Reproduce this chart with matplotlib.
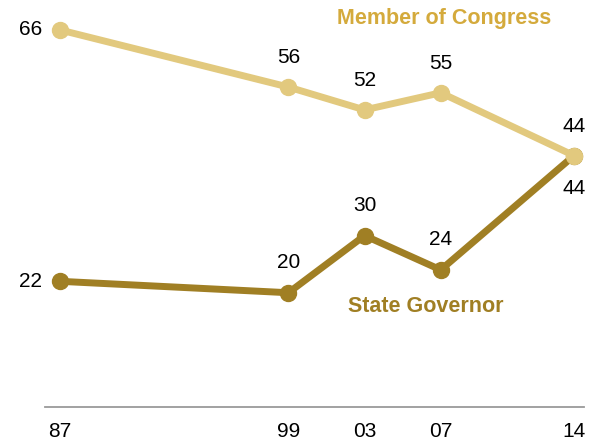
import matplotlib
matplotlib.use("Agg")
import matplotlib.pyplot as plt

# survey years and shares
years = [1987, 1999, 2003, 2007, 2014]
year_labels = ["87", "99", "03", "07", "14"]
congress = [66, 56, 52, 55, 44]
governor = [22, 20, 30, 24, 44]

light = "#E2C97E"
dark = "#A07F24"
congress_txt = "#D4AA3C"

num_font = ["Liberation Sans", "DejaVu Sans"]
lab_font = ["Liberation Sans", "DejaVu Sans"]
fs = 15

fig = plt.figure(figsize=(5.97, 4.43), dpi=100)
ax = fig.add_axes([45 / 597, 1 - 407 / 443, (584 - 45) / 597, 407 / 443])
x0 = 1987 - 15 / 19.04
x1 = 2014 + 10 / 19.04
ax.set_xlim(x0, x1)
ax.set_ylim(0, 66 + 30 / 5.727)

ax.plot(years, congress, color=light, lw=5, marker="o", ms=11.5, clip_on=False, zorder=3)
ax.plot(years, governor, color=dark, lw=5, marker="o", ms=11.5, clip_on=False, zorder=2)

for s in ["top", "left", "right"]:
    ax.spines[s].set_visible(False)
ax.spines["bottom"].set_color("#9a9a9a")
ax.spines["bottom"].set_linewidth(1.3)
ax.set_yticks([])
ax.set_xticks(years)
ax.set_xticklabels(year_labels, fontsize=fs, family=num_font)
ax.tick_params(axis="x", length=0, pad=11)

# data labels
for i, (x, v) in enumerate(zip(years, congress)):
    if i == 0:
        ax.annotate(str(v), (x, v), xytext=(-13, 0), textcoords="offset points",
                    ha="right", va="center", fontsize=fs, family=num_font)
    else:
        ax.annotate(str(v), (x, v), xytext=(0, 21), textcoords="offset points",
                    ha="center", va="center", fontsize=fs, family=num_font)

for i, (x, v) in enumerate(zip(years, governor)):
    if i == 0:
        ax.annotate(str(v), (x, v), xytext=(-13, 0), textcoords="offset points",
                    ha="right", va="center", fontsize=fs, family=num_font)
    elif i == len(years) - 1:
        ax.annotate(str(v), (x, v), xytext=(0, -24), textcoords="offset points",
                    ha="center", va="center", fontsize=fs, family=num_font)
    else:
        ax.annotate(str(v), (x, v), xytext=(0, 22), textcoords="offset points",
                    ha="center", va="center", fontsize=fs, family=num_font)

ax.text(2007.2, 68.0, "Member of Congress", color=congress_txt, fontsize=15.5,
        fontweight="bold", family=lab_font, ha="center", va="center")
ax.text(2006.2, 17.6, "State Governor", color=dark, fontsize=15.5,
        fontweight="bold", family=lab_font, ha="center", va="center")

fig.savefig("out.png", dpi=100)
